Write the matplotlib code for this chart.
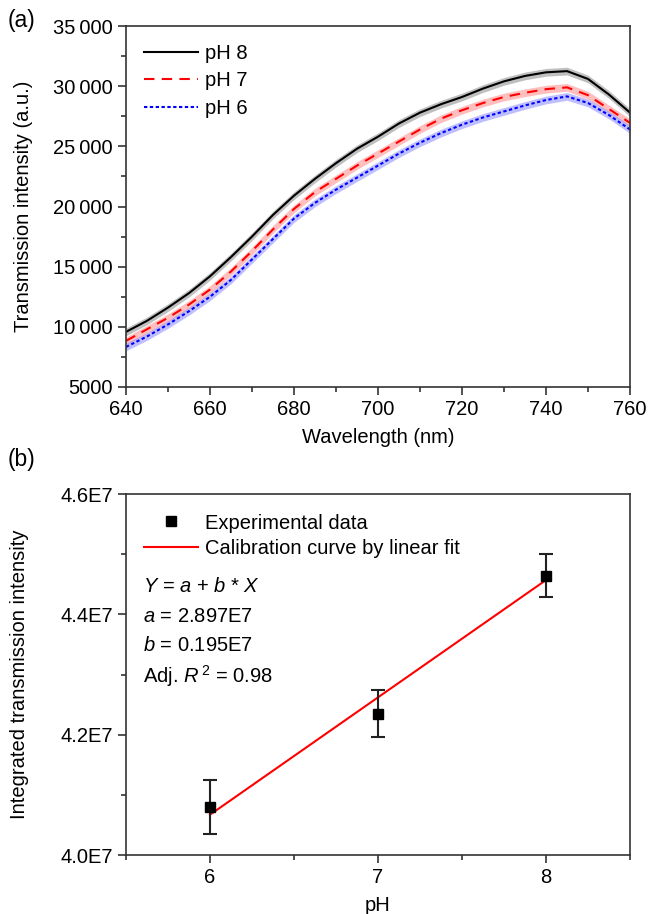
import numpy as np
import matplotlib
matplotlib.use("Agg")
import matplotlib.pyplot as plt
from matplotlib.ticker import MultipleLocator, FuncFormatter
from matplotlib.lines import Line2D

# panel (a): transmission spectra
wavelength = [640, 645, 650, 655, 660, 665, 670, 675, 680, 685, 690, 695, 700,
              705, 710, 715, 720, 725, 730, 735, 740, 745, 750, 755, 760]
ph8 = [9580, 10500, 11600, 12800, 14200, 15800, 17500, 19300, 20900, 22300, 23600, 24800, 25800,
       26900, 27800, 28500, 29100, 29800, 30400, 30850, 31150, 31250, 30600, 29300, 27800]
ph7 = [8830, 9800, 10750, 11850, 13100, 14600, 16300, 18100, 19800, 21200, 22300, 23400, 24400,
       25400, 26400, 27300, 28000, 28600, 29100, 29450, 29750, 29900, 29250, 28100, 26950]
ph6 = [8330, 9200, 10200, 11300, 12500, 13900, 15600, 17300, 19000, 20300, 21400, 22400, 23400,
       24400, 25300, 26100, 26800, 27400, 27900, 28400, 28850, 29150, 28600, 27600, 26400]
band = 320  # half width of the shaded spread

# panel (b): integrated intensity vs pH
ph = [6, 7, 8]
integ = [4.080e7, 4.235e7, 4.464e7]
integ_err = [0.045e7, 0.039e7, 0.036e7]
fit_a = 2.897e7
fit_b = 0.195e7

plt.rcParams["font.family"] = ["Liberation Sans", "DejaVu Sans"]
plt.rcParams["font.size"] = 14.5
plt.rcParams["mathtext.fontset"] = "custom"
plt.rcParams["mathtext.rm"] = "Liberation Sans"
plt.rcParams["mathtext.it"] = "Liberation Sans:italic"
plt.rcParams["axes.linewidth"] = 1.2
plt.rcParams["axes.edgecolor"] = "#333333"

fig = plt.figure(figsize=(6.49, 9.14), dpi=100)
W, H = 649.0, 914.0
ax1 = fig.add_axes([126 / W, 1 - 387 / H, (630 - 126) / W, (387 - 26) / H])
ax2 = fig.add_axes([126 / W, 1 - 855 / H, (630 - 126) / W, (855 - 494) / H])

for ax in (ax1, ax2):
    ax.tick_params(which="major", direction="out", length=6, width=1.2, color="#333333")
    ax.tick_params(which="minor", direction="out", length=3.5, width=1.2, color="#333333")

# ---- (a)
wl = np.array(wavelength)
series = [(ph8, "k", "-", "#8c8c8c", "pH 8"),
          (ph7, "#ff0000", (0, (5, 3.5)), "#ff8c8c", "pH 7"),
          (ph6, "#0000ff", (0, (1.6, 1.2)), "#8c8cff", "pH 6")]
for vals, col, ls, fill, lab in series:
    v = np.array(vals)
    ax1.fill_between(wl, v - band, v + band, color=fill, alpha=0.55, lw=0)
for vals, col, ls, fill, lab in series:
    ax1.plot(wl, vals, color=col, ls=ls, lw=1.5, label=lab)

ax1.set_xlim(640, 760)
ax1.set_ylim(5000, 35000)
ax1.xaxis.set_major_locator(MultipleLocator(20))
ax1.xaxis.set_minor_locator(MultipleLocator(10))
ax1.yaxis.set_major_locator(MultipleLocator(5000))
ax1.yaxis.set_minor_locator(MultipleLocator(2500))
ax1.yaxis.set_major_formatter(FuncFormatter(
    lambda v, p: ("%d\u2009%03d" % (v // 1000, v % 1000)) if v >= 10000 else "%d" % v))
ax1.set_xlabel("Wavelength (nm)", labelpad=6)
ax1.set_ylabel("Transmission intensity (a.u.)")
ax1.yaxis.set_label_coords(-0.185, 0.5)
ax1.legend(loc="upper left", frameon=False, handlelength=2.7, handletextpad=0.35,
           labelspacing=0.42, borderaxespad=0.3, bbox_to_anchor=(0.007, 0.99))
fig.text(8 / W, 1 - 20 / H, "(a)", fontsize=16.5, va="center", ha="left")

# ---- (b)
ax2.errorbar(ph, integ, yerr=integ_err, fmt="s", color="k", ms=7.5, ecolor="#222222",
             elinewidth=1.5, capsize=5, capthick=1.5, zorder=3)
xf = np.array([ph[0], ph[-1]])
ax2.plot(xf, fit_a + fit_b * xf, color="#ff0000", lw=1.5, zorder=2)
ax2.set_xlim(5.5, 8.5)
ax2.set_ylim(4.0e7, 4.6e7)
ax2.xaxis.set_major_locator(MultipleLocator(1))
ax2.xaxis.set_minor_locator(MultipleLocator(0.5))
ax2.yaxis.set_major_locator(MultipleLocator(0.2e7))
ax2.yaxis.set_minor_locator(MultipleLocator(0.1e7))
ax2.yaxis.set_major_formatter(FuncFormatter(lambda v, p: "%.1fE7" % (v / 1e7)))
ax2.set_xlabel("pH", labelpad=6)
ax2.set_ylabel("Integrated transmission intensity")
ax2.yaxis.set_label_coords(-0.193, 0.5)
handles = [Line2D([], [], ls="none", marker="s", color="k", ms=7.5),
           Line2D([], [], color="#ff0000", lw=1.5)]
ax2.legend(handles, ["Experimental data", "Calibration curve by linear fit"],
           loc="upper left", frameon=False, handlelength=2.7, handletextpad=0.35,
           labelspacing=0.3, borderaxespad=0.3, bbox_to_anchor=(0.007, 0.985))
eq_lines = [r"$Y$ = $a$ + $b$ * $X$", r"$a$ = 2.897E7", r"$b$ = 0.195E7",
            r"Adj. $R^{\,2}$ = 0.98"]
for i, s in enumerate(eq_lines):
    ax2.text(0.033, 0.745 - i * 0.083, s, transform=ax2.transAxes, va="center", ha="left")
fig.text(8 / W, 1 - 460 / H, "(b)", fontsize=16.5, va="center", ha="left")

fig.savefig("out.png", dpi=100)
